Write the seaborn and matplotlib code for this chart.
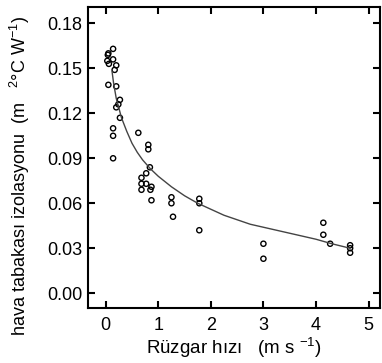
import seaborn as sns
import matplotlib.pyplot as plt
import pandas as pd

# measured points
wind = [0.04, 0.05, 0.03, 0.06, 0.14, 0.14, 0.17, 0.20, 0.05, 0.20, 0.27, 0.20, 0.27, 0.24,
        0.14, 0.14, 0.14, 0.62, 0.81, 0.81, 0.84, 0.77, 0.68, 0.68, 0.77, 0.87, 0.68, 0.85, 0.87,
        1.25, 1.25, 1.28, 1.78, 1.78, 1.78, 3.0, 3.0, 4.14, 4.14, 4.27, 4.65, 4.65, 4.65]
insul = [0.159, 0.160, 0.155, 0.153, 0.163, 0.156, 0.149, 0.152, 0.139, 0.138, 0.129, 0.124, 0.117, 0.126,
         0.110, 0.105, 0.090, 0.107, 0.099, 0.096, 0.084, 0.080, 0.077, 0.073, 0.073, 0.071, 0.069, 0.069, 0.062,
         0.064, 0.060, 0.051, 0.063, 0.060, 0.042, 0.033, 0.023, 0.047, 0.039, 0.033, 0.032, 0.030, 0.027]

# fitted curve
fit_x = [0.12, 0.15, 0.2, 0.3, 0.4, 0.5, 0.6, 0.7, 0.85, 1.0, 1.25, 1.5, 1.75, 2.0, 2.25, 2.5,
         2.75, 3.0, 3.5, 4.0, 4.3, 4.65]
fit_y = [0.148, 0.140, 0.130, 0.117, 0.108, 0.100, 0.094, 0.089, 0.083, 0.078, 0.071, 0.065, 0.060,
         0.056, 0.052, 0.049, 0.046, 0.044, 0.040, 0.036, 0.033, 0.030]

df = pd.DataFrame({"x": wind, "y": insul})
fit = pd.DataFrame({"x": fit_x, "y": fit_y})

sns.set_style("ticks")
plt.rcParams['font.family'] = ['Liberation Sans', 'DejaVu Sans']
plt.rcParams['mathtext.fontset'] = 'custom'
plt.rcParams['mathtext.rm'] = 'Liberation Sans'
plt.rcParams['mathtext.it'] = 'Liberation Sans'
plt.rcParams['text.color'] = 'black'
plt.rcParams['axes.labelcolor'] = 'black'
plt.rcParams['xtick.color'] = 'black'
plt.rcParams['ytick.color'] = 'black'
plt.rcParams['axes.edgecolor'] = 'black'

fig = plt.figure(figsize=(3.82, 3.63), dpi=100)
ax = fig.add_axes([0.23, 0.151, 0.765, 0.83])

sns.lineplot(data=fit, x="x", y="y", ax=ax, color="#444444", lw=1.0, sort=True)
sns.scatterplot(data=df, x="x", y="y", ax=ax, marker="o", s=14,
                facecolor="none", edgecolor="black", linewidth=1.0)

ax.set_xlim(-0.34, 5.22)
ax.set_ylim(-0.01, 0.191)
ax.set_xticks([0, 1, 2, 3, 4, 5])
ax.set_yticks([0.0, 0.03, 0.06, 0.09, 0.12, 0.15, 0.18])
ax.set_yticklabels(["0.00", "0.03", "0.06", "0.09", "0.12", "0.15", "0.18"])
ax.tick_params(direction="in", length=5, width=1.5, top=True, right=True,
               labelsize=13, pad=4)
ax.tick_params(axis="x", pad=6)
for s in ax.spines.values():
    s.set_linewidth(1.5)
    s.set_visible(True)

ax.set_xlabel("Rüzgar hızı   (m s $^{-1}$)", fontsize=13.5, labelpad=2)
ax.set_ylabel("hava tabakası izolasyonu  (m   $^{2}$°C W$^{-1}$)", fontsize=13)
ax.yaxis.set_label_coords(-0.19, 0.44)

plt.savefig("out.png", dpi=100)
plt.close()
